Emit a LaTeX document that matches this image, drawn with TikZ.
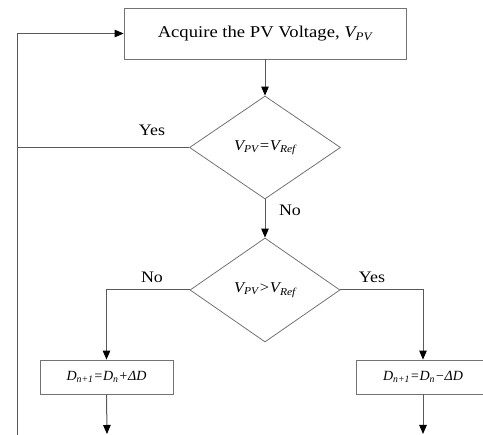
\documentclass[tikz,border=0pt]{standalone}
\usepackage{fontspec}
\setmainfont{Liberation Serif}
\usetikzlibrary{arrows.meta,shapes.geometric}
\begin{document}
\begin{tikzpicture}[x=1pt,y=-1pt,
  line/.style={draw=black!65, line width=1pt},
  arr/.style={line, -{Triangle[length=9pt,width=7.5pt,color=black]}},
  boxst/.style={draw=black!55, line width=0.8pt, rectangle, inner sep=0pt, fill=white},
  dia/.style={draw=black!55, line width=0.8pt, diamond, inner sep=0pt},
  lab/.style={font=\fontsize{16}{18}\selectfont, inner sep=0pt}
]
\useasboundingbox (0,0) rectangle (483,435);
\node[boxst, minimum width=282pt, minimum height=51pt, font=\fontsize{16.5}{18}\selectfont] (top) at (265,33.5) {\scalebox{1.13}[1]{Acquire the PV Voltage, \textit{V\textsubscript{PV}}}};
\node[dia, minimum width=151pt, minimum height=103pt, font=\fontsize{15}{17}\selectfont\itshape] (d1) at (265,147.5) {\scalebox{1.1}[1]{V\textsubscript{PV}=V\textsubscript{Ref}}};
\node[dia, minimum width=150pt, minimum height=104pt, font=\fontsize{15}{17}\selectfont\itshape] (d2) at (265,290) {\scalebox{1.1}[1]{V\textsubscript{PV}>V\textsubscript{Ref}}};
\node[boxst, minimum width=133pt, minimum height=34pt, font=\fontsize{14}{16}\selectfont\itshape] (bl) at (106.5,377) {D\textsubscript{n+1}=D\textsubscript{n}+ΔD};
\node[boxst, minimum width=134pt, minimum height=34pt, font=\fontsize{14}{16}\selectfont\itshape] (br) at (423,377) {D\textsubscript{n+1}=D\textsubscript{n}−ΔD};
\coordinate (tl) at (17,33.5);
\coordinate (lb) at (17,436);
\coordinate (lj) at (17,147.5);
\coordinate (ble) at (107,434);
\coordinate (bre) at (423,434);
\node[lab] (yes1) at (152,130) {\scalebox{1.12}[1]{Yes}};
\node[lab] (no1) at (290,210) {\scalebox{1.12}[1]{No}};
\node[lab] (no2) at (152,277) {\scalebox{1.12}[1]{No}};
\node[lab] (yes2) at (372,277) {\scalebox{1.12}[1]{Yes}};
\draw[arr] (top.south) -- (d1.north);
\draw[line] (d1.west) -- (lj);
\draw[arr] (lb) -- (tl) -- (top.west);
\draw[arr] (d1.south) -- (d2.north);
\draw[arr] (d2.west) -| (bl.north);
\draw[arr] (d2.east) -| (br.north);
\draw[arr] (bl.south) -- (ble);
\draw[arr] (br.south) -- (bre);
\end{tikzpicture}
\end{document}
